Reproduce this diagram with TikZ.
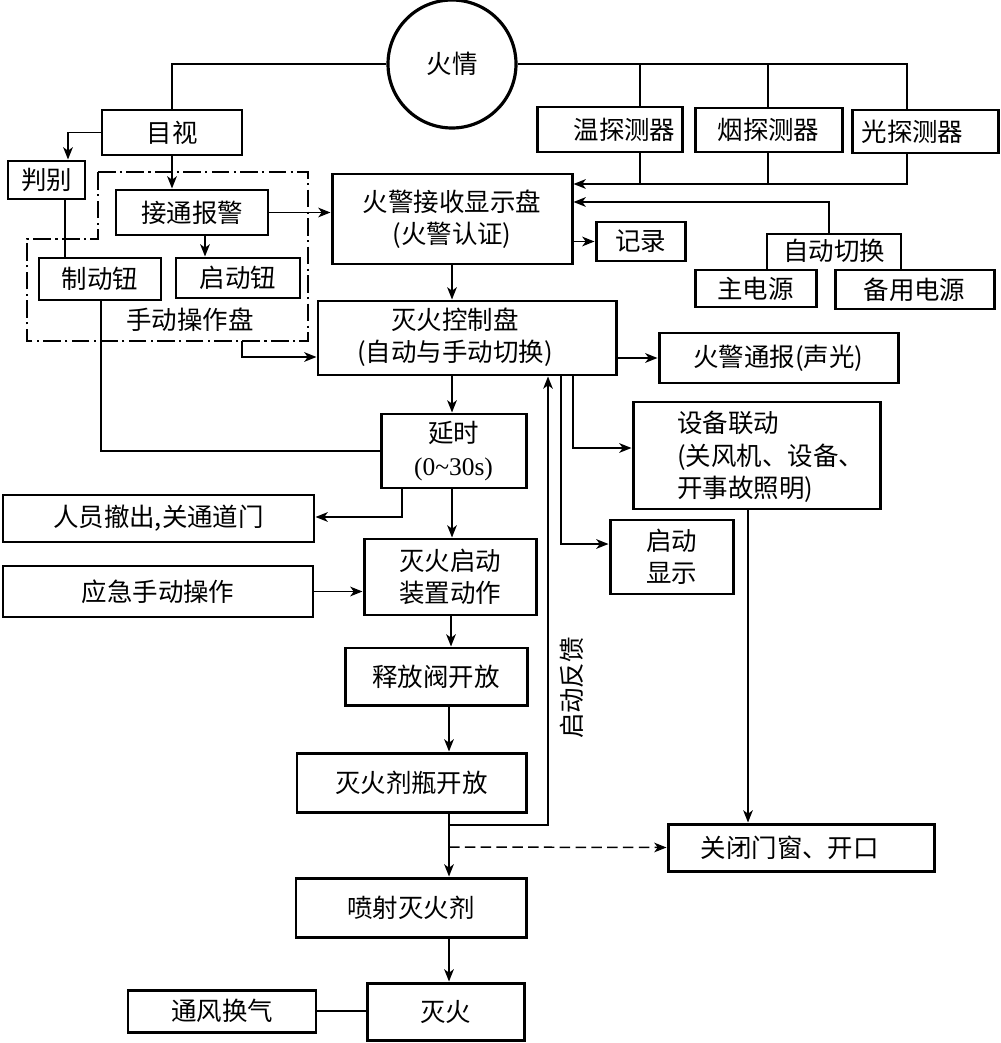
\documentclass[tikz,border=0pt]{standalone}
\usepackage{fontspec}
\setmainfont{Noto Sans CJK SC}
\newfontfamily\latinfont{Liberation Serif}
\usetikzlibrary{arrows.meta}
\newcommand\mybox[6]{\node[box, minimum width={(#4-#2)*0.02cm}, minimum height={(#5-#3)*0.02cm}] (#1) at ({(#2+#4)/2},{(#3+#5)/2}) {#6};}
\begin{document}
\begin{tikzpicture}[x=0.02cm,y=-0.02cm,
  every node/.style={font=\fontsize{14.5}{18.5}\selectfont, inner sep=0pt},
  box/.style={draw, line width=1.7pt, align=center},
  txt/.style={align=center},
  conn/.style={line width=0.85pt},
  arr/.style={conn, -{Stealth[length=7pt,width=5.5pt,inset=2pt]}},
  dashdot box/.style={line width=1pt, dash pattern=on 10pt off 2.5pt on 1.2pt off 2.5pt},
]
\useasboundingbox (0,0) rectangle (1000,1043);

% fire circle
\node[circle, draw, line width=1.8pt, minimum size={128*0.02cm}] (fire) at (452,64) {火情};

% boxes
\mybox{mushi}{102}{110}{242}{155}{目视}
\mybox{panbie}{8}{161}{85}{199}{判别}
\mybox{jietong}{116}{190}{268}{235}{接通报警}
\mybox{zhidong}{39}{258}{161}{300}{制动钮}
\mybox{qidong}{176}{258}{300}{298}{启动钮}
\mybox{jieshou}{332}{174}{572}{264}{火警接收显示盘\\(火警认证)}
\mybox{jilu}{596}{222}{685}{261}{记录}
\mybox{wen}{537}{107}{682}{152}{\hspace*{0.6cm}温探测器}
\mybox{yan}{695}{108}{842}{152}{烟探测器}
\mybox{guang}{852}{110}{998}{153}{光探测器\hspace*{0.5cm}}
\mybox{zhu}{695}{270}{816}{307}{主电源}
\mybox{bei}{835}{270}{994}{309}{备用电源}
\node (zdqh) at (834,251) {自动切换};
\mybox{kongzhi}{318}{301}{616}{375}{}
\node[txt] (kongzhit) at (455,337) {灭火控制盘\\(自动与手动切换)};
\mybox{tongbao}{659}{333}{898}{383}{火警通报(声光)}
\mybox{sblian}{633}{402}{880}{509}{}
\node[align=left, anchor=west] (sbliant) at (677,457) {设备联动\\(关风机、设备、\\开事故照明)};
\mybox{qdxs}{610}{520}{733}{594}{启动\\显示}
\mybox{yanshi}{381}{414}{526}{488}{延时\\{\latinfont (0\textasciitilde 30s)}}
\mybox{renyuan}{3}{495}{314}{542}{人员撤出,关通道门}
\mybox{qdzz}{364}{539}{536}{615}{灭火启动\\装置动作}
\mybox{yingji}{3}{566}{313}{617}{应急手动操作}
\mybox{shifang}{345}{648}{527}{705}{释放阀开放}
\mybox{jiping}{297}{753}{526}{812}{灭火剂瓶开放}
\mybox{penshe}{296}{878}{526}{937}{喷射灭火剂}
\mybox{miehuo}{367}{983}{524}{1040}{灭火}
\mybox{tongfeng}{128}{990}{316}{1032}{通风换气}
\mybox{guanbi}{668}{824}{934}{871}{关闭门窗、开口\hspace*{0.45cm}}

% manual panel (dash-dot)
\draw[dashdot box] (98,172) -- (308,172) -- (308,341) -- (27,341) -- (27,239) -- (98,239) -- cycle;
\node (sdcz) at (190,320) {手动操作盘};

% feedback label
\node[rotate=90] (fk) at (572,688) {启动反馈};

% top connections
\draw[conn] (fire.west) -| (mushi.north);
\draw[conn] (fire.east) -- (907,64) -- (907,0 |- guang.north);
\draw[conn] (640,64) -- (640,0 |- wen.north);
\draw[conn] (768,64) -- (768,0 |- yan.north);
\draw[conn] (640,0 |- wen.south) -- (640,184);
\draw[conn] (768,0 |- yan.south) -- (768,184);
\draw[arr] (907,0 |- guang.south) -- (907,184) -- (jieshou.east |- 0,184);
\draw[conn] (767,0 |- zhu.north) -- (767,234) -- (901,234) -- (901,0 |- bei.north);
\draw[arr] (829,234) -- (829,202) -- (jieshou.east |- 0,202);
\draw[arr] (jieshou.east |- jilu.west) -- (jilu.west);

% left side
\draw[arr] (mushi.west) -- (68,0 |- mushi.west) -- (68,0 |- panbie.north);
\draw[conn] (65,0 |- panbie.south) -- (65,0 |- zhidong.north);
\draw[arr] (mushi.south) -- (mushi.south |- jietong.north);
\draw[arr] (205,0 |- jietong.south) -- (205,0 |- qidong.north);
\draw[arr] (jietong.east) -- (jieshou.west |- jietong.east);
\draw[conn] (101,0 |- zhidong.south) -- (101,0 |- yanshi.west) -- (yanshi.west);
\draw[arr] (242,341) -- (242,357) -- (kongzhi.west |- 0,357);

% center column
\draw[arr] (jieshou.south) -- (jieshou.south |- kongzhi.north);
\draw[arr] (kongzhi.east |- tongbao.west) -- (tongbao.west);
\draw[arr] (452,0 |- kongzhi.south) -- (452,0 |- yanshi.north);
\draw[arr] (402,0 |- yanshi.south) -- (402,517) -- (renyuan.east |- 0,517);
\draw[arr] (452,0 |- yanshi.south) -- (452,0 |- qdzz.north);
\draw[arr] (yingji.east) -- (qdzz.west |- yingji.east);
\draw[arr] (451,0 |- qdzz.south) -- (451,0 |- shifang.north);
\draw[arr] (449,0 |- shifang.south) -- (449,0 |- jiping.north);
\draw[arr] (449,0 |- jiping.south) -- (449,0 |- penshe.north);
\draw[arr] (449,0 |- penshe.south) -- (449,0 |- miehuo.north);
\draw[conn] (tongfeng.east) -- (miehuo.west |- tongfeng.east);

% right branch
\draw[arr] (449,825) -- (548,825) -- (548,0 |- kongzhi.south);
\draw[arr] (561,0 |- kongzhi.south) -- (561,544) -- (qdxs.west |- 0,544);
\draw[arr] (573,0 |- kongzhi.south) -- (573,448) -- (sblian.west |- 0,448);
\draw[arr] (748,0 |- sblian.south) -- (748,0 |- guanbi.north);
\draw[arr, dash pattern=on 6pt off 3pt] (449,847) -- (guanbi.west);
\end{tikzpicture}
\end{document}
